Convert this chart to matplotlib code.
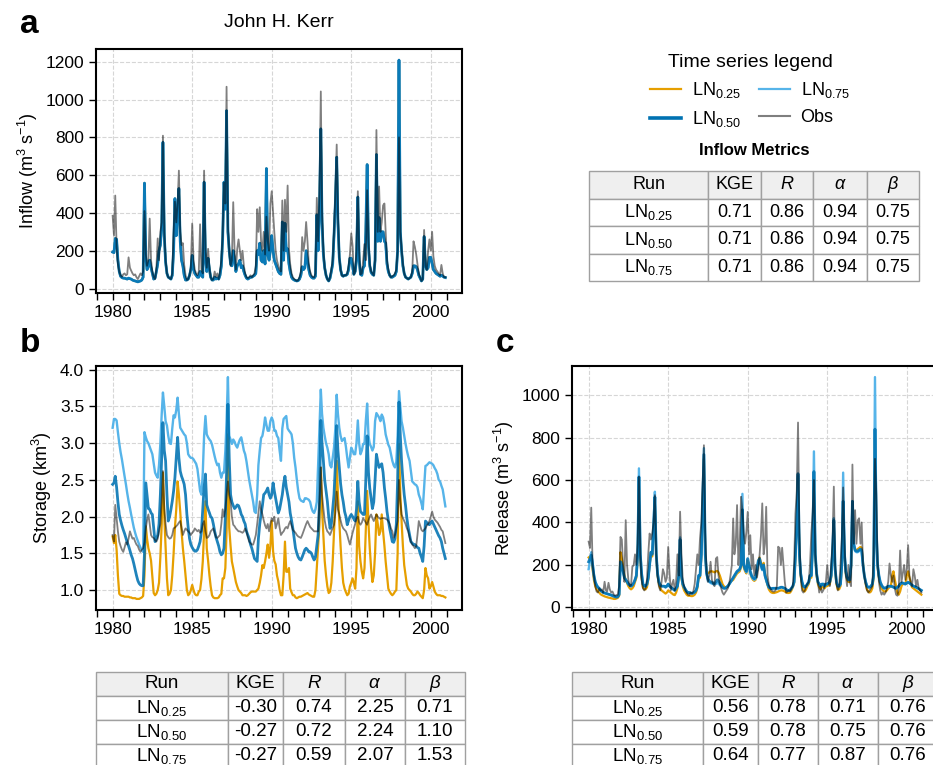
import numpy as np
import pandas as pd
import matplotlib
matplotlib.use('Agg')
import matplotlib.pyplot as plt
import matplotlib.dates as mdates
from matplotlib.lines import Line2D

plt.rcParams['font.family'] = ['Liberation Sans', 'DejaVu Sans']
plt.rcParams['mathtext.fontset'] = 'custom'
plt.rcParams['mathtext.rm'] = 'Liberation Sans'
plt.rcParams['mathtext.it'] = 'Liberation Sans:italic'
plt.rcParams['mathtext.bf'] = 'Liberation Sans:bold'

# monthly values, Jan 1980 - Dec 2000 (one line per year)
dates = pd.date_range('1980-01-01', periods=252, freq='MS')

inflow_obs = [
    385, 280, 492, 220, 130, 90, 70, 62, 75, 80, 70, 75,
    165, 110, 95, 80, 70, 75, 60, 50, 65, 80, 70, 90,
    410, 180, 120, 150, 370, 150, 90, 60, 50, 100, 265, 150,
    300, 350, 809, 300, 150, 80, 60, 55, 50, 80, 300, 460,
    350, 450, 624, 300, 230, 240, 125, 70, 45, 50, 70, 110,
    344, 150, 100, 80, 70, 90, 340, 100, 80, 624, 210, 110,
    210, 110, 60, 45, 50, 90, 60, 80, 50, 90, 150, 280,
    560, 450, 1068, 330, 200, 120, 150, 457, 200, 100, 210, 260,
    200, 150, 200, 120, 80, 60, 55, 60, 70, 60, 70, 80,
    120, 420, 300, 430, 250, 200, 300, 180, 380, 250, 200, 450,
    515, 400, 300, 200, 150, 120, 100, 90, 466, 200, 470, 300,
    545, 210, 130, 80, 60, 50, 45, 40, 45, 60, 90, 272,
    200, 250, 352, 250, 130, 90, 70, 60, 60, 80, 480, 250,
    500, 1043, 400, 200, 110, 70, 50, 40, 60, 100, 150, 300,
    500, 762, 400, 165, 100, 70, 65, 70, 70, 80, 120, 180,
    292, 225, 75, 90, 200, 515, 200, 75, 80, 150, 235, 150,
    520, 250, 130, 90, 80, 70, 150, 839, 300, 540, 300, 350,
    440, 450, 300, 150, 100, 70, 60, 65, 70, 80, 100, 200,
    800, 300, 210, 130, 80, 60, 55, 50, 55, 60, 90, 250,
    220, 180, 130, 80, 60, 40, 50, 310, 120, 100, 200, 260,
    200, 300, 170, 120, 100, 90, 80, 70, 125, 80, 60, 60,
]

# the three runs give the same inflow
inflow_sim = [
    193, 190, 265, 260, 150, 90, 65, 58, 55, 55, 52, 50,
    55, 52, 50, 45, 42, 40, 38, 35, 38, 40, 45, 60,
    558, 160, 100, 120, 150, 110, 80, 50, 55, 90, 130, 200,
    230, 330, 774, 280, 140, 80, 60, 55, 50, 70, 200, 476,
    280, 400, 529, 250, 150, 120, 70, 45, 45, 50, 70, 100,
    175, 100, 80, 70, 60, 60, 90, 70, 60, 563, 150, 90,
    160, 100, 60, 45, 45, 60, 50, 55, 50, 70, 120, 260,
    563, 420, 941, 300, 200, 130, 120, 200, 150, 90, 120, 130,
    150, 110, 120, 90, 70, 55, 50, 55, 60, 60, 65, 70,
    80, 200, 180, 240, 150, 140, 200, 130, 635, 180, 150, 200,
    280, 200, 150, 130, 110, 90, 80, 75, 352, 150, 345, 200,
    210, 130, 90, 60, 50, 45, 42, 40, 42, 50, 70, 115,
    100, 110, 200, 150, 100, 70, 60, 55, 55, 65, 390, 200,
    400, 845, 350, 180, 110, 70, 50, 40, 55, 90, 130, 280,
    450, 695, 350, 165, 100, 70, 65, 70, 70, 75, 100, 160,
    160, 120, 75, 90, 150, 484, 150, 75, 70, 110, 120, 300,
    656, 220, 120, 85, 75, 70, 150, 709, 250, 375, 250, 300,
    300, 250, 240, 130, 90, 70, 60, 60, 65, 70, 90, 200,
    1209, 300, 200, 120, 80, 60, 55, 50, 55, 60, 80, 120,
    120, 115, 100, 70, 55, 40, 50, 275, 120, 100, 110, 165,
    165, 130, 100, 90, 80, 75, 70, 65, 70, 65, 60, 58,
]

storage_obs = [
    1.75, 1.66, 2.16, 1.98, 1.80, 1.66, 1.60, 1.55, 1.52, 1.58, 1.65, 1.62,
    1.70, 1.80, 1.75, 1.70, 1.71, 1.66, 1.62, 1.60, 1.55, 1.52, 1.55, 1.57,
    1.65, 1.84, 1.95, 2.03, 1.90, 1.75, 1.72, 1.71, 1.68, 1.66, 1.70, 1.80,
    1.90, 2.20, 2.62, 2.11, 1.90, 1.75, 1.72, 1.70, 1.71, 1.75, 1.84, 1.85,
    1.87, 1.89, 1.92, 1.94, 1.85, 1.75, 1.80, 1.84, 1.82, 1.80, 1.78, 1.75,
    1.78, 1.80, 1.84, 1.82, 1.80, 1.82, 1.78, 1.80, 1.90, 1.94, 1.80, 1.71,
    1.72, 1.75, 1.80, 1.82, 1.84, 1.78, 1.72, 1.71, 1.73, 1.75, 1.90, 2.10,
    2.00, 2.10, 2.30, 2.48, 2.30, 2.21, 2.00, 1.89, 1.87, 1.84, 1.82, 1.80,
    1.80, 1.79, 1.78, 1.80, 1.84, 1.80, 1.72, 1.66, 1.64, 1.62, 1.62, 1.68,
    1.75, 1.90, 2.05, 2.21, 2.10, 2.03, 1.95, 1.88, 1.84, 1.90, 1.80, 1.90,
    1.98, 1.94, 2.00, 1.84, 1.90, 1.98, 1.85, 1.75, 1.78, 1.80, 1.84, 1.86,
    1.84, 1.90, 1.94, 1.88, 1.82, 1.80, 1.78, 1.75, 1.73, 1.72, 1.71, 1.75,
    1.80, 1.85, 1.90, 1.94, 1.90, 1.86, 1.84, 1.82, 1.80, 1.80, 1.80, 1.80,
    2.20, 2.67, 2.30, 2.11, 1.95, 1.85, 1.80, 1.78, 1.75, 1.80, 1.85, 1.89,
    2.05, 2.34, 2.10, 2.03, 1.95, 1.88, 1.84, 1.82, 1.80, 1.75, 1.68, 1.62,
    1.70, 1.78, 1.84, 1.90, 1.98, 2.00, 1.92, 1.89, 1.92, 1.98, 1.95, 1.92,
    1.89, 1.95, 2.00, 2.03, 1.98, 1.94, 1.98, 2.03, 2.00, 1.98, 1.97, 1.98,
    1.98, 1.98, 1.97, 1.96, 1.94, 1.90, 1.84, 1.80, 1.71, 1.75, 1.85, 1.94,
    2.50, 2.20, 2.03, 1.98, 1.94, 1.90, 1.84, 1.80, 1.72, 1.66, 1.62, 1.60,
    1.57, 1.60, 1.75, 1.94, 1.88, 1.82, 1.80, 1.82, 1.84, 1.88, 1.90, 1.94,
    2.00, 2.07, 2.00, 1.96, 1.94, 1.92, 1.89, 1.86, 1.82, 1.80, 1.72, 1.64,
]

storage_ln25 = [
    1.73, 1.64, 1.75, 1.55, 1.20, 0.95, 0.93, 0.92, 0.92, 0.91, 0.91, 0.91,
    0.91, 0.90, 0.90, 0.89, 0.89, 0.89, 0.88, 0.88, 0.88, 0.89, 0.90, 0.92,
    1.20, 1.87, 1.70, 1.57, 1.50, 1.40, 1.19, 0.96, 0.93, 0.95, 1.00, 1.10,
    1.45, 1.90, 2.60, 2.00, 1.60, 1.16, 0.93, 0.95, 1.00, 1.20, 1.50, 1.85,
    2.10, 2.48, 2.30, 2.07, 1.80, 1.57, 1.40, 1.20, 1.00, 0.93, 0.95, 1.00,
    1.07, 1.00, 0.95, 0.93, 0.93, 0.98, 1.00, 1.15, 1.39, 1.80, 2.21, 1.57,
    1.40, 1.20, 1.05, 0.93, 0.90, 0.89, 0.89, 0.89, 0.90, 0.93, 0.95, 1.16,
    1.16, 1.30, 1.80, 3.12, 1.85, 1.60, 1.39, 1.30, 1.20, 1.11, 1.05, 1.00,
    0.98, 0.96, 0.93, 0.93, 0.93, 0.92, 0.93, 0.95, 0.97, 0.98, 0.98, 0.98,
    0.98, 1.00, 1.02, 1.10, 1.20, 1.34, 1.30, 1.39, 1.50, 1.62, 1.44, 1.60,
    1.94, 1.53, 1.40, 1.35, 1.20, 1.12, 1.00, 0.93, 0.93, 1.20, 1.66, 1.25,
    1.25, 1.30, 1.02, 0.97, 0.93, 0.93, 0.90, 0.89, 0.90, 0.91, 0.91, 0.92,
    0.93, 0.94, 0.95, 0.96, 0.94, 0.93, 0.92, 0.91, 0.91, 1.00, 1.30, 1.57,
    1.90, 2.67, 2.10, 1.75, 1.40, 1.20, 1.05, 0.96, 0.98, 1.10, 1.39, 1.80,
    2.20, 2.76, 2.30, 1.94, 1.60, 1.30, 1.10, 1.02, 0.97, 0.93, 0.95, 1.05,
    1.10, 1.16, 1.10, 1.02, 1.30, 2.21, 1.60, 1.39, 1.25, 1.16, 1.30, 1.80,
    2.35, 1.90, 1.57, 1.30, 1.11, 1.20, 1.50, 2.03, 1.90, 1.75, 1.80, 2.03,
    1.80, 1.60, 1.39, 1.20, 1.02, 0.98, 0.95, 0.93, 0.95, 0.98, 1.00, 1.50,
    2.99, 2.30, 1.94, 1.60, 1.34, 1.20, 1.07, 1.02, 1.00, 0.98, 0.95, 0.93,
    0.93, 0.95, 0.98, 0.96, 0.93, 0.91, 0.89, 1.00, 1.30, 1.20, 1.16, 1.02,
    1.05, 1.11, 1.05, 0.98, 0.95, 0.93, 0.93, 0.93, 0.92, 0.92, 0.91, 0.90,
]

storage_ln50 = [
    2.44, 2.46, 2.55, 2.40, 2.20, 2.03, 1.95, 1.88, 1.82, 1.77, 1.71, 1.65,
    1.60, 1.54, 1.48, 1.43, 1.36, 1.28, 1.20, 1.13, 1.09, 1.07, 1.06, 1.06,
    1.50, 2.46, 2.30, 2.11, 2.10, 2.05, 2.03, 1.85, 1.66, 1.70, 1.75, 1.90,
    2.30, 2.80, 3.28, 2.90, 2.76, 2.30, 1.94, 2.00, 2.10, 2.21, 2.35, 2.53,
    2.80, 3.08, 2.80, 2.62, 2.55, 2.50, 2.44, 2.30, 2.03, 1.85, 1.70, 1.62,
    1.58, 1.55, 1.53, 1.53, 1.55, 1.60, 1.66, 1.80, 2.10, 2.40, 2.58, 2.16,
    2.10, 2.05, 2.00, 1.98, 1.90, 1.80, 1.72, 1.66, 1.60, 1.52, 1.48, 1.50,
    1.57, 2.00, 2.60, 3.53, 2.80, 2.30, 2.20, 2.15, 2.11, 2.13, 2.16, 2.15,
    2.10, 2.03, 2.00, 1.94, 1.90, 1.80, 1.75, 1.70, 1.62, 1.57, 1.50, 1.43,
    1.41, 1.39, 1.70, 1.90, 2.03, 2.15, 2.30, 2.32, 2.35, 2.39, 2.30, 2.25,
    2.30, 2.46, 2.35, 2.25, 2.15, 2.05, 2.10, 2.20, 2.30, 2.45, 2.55, 2.40,
    2.30, 2.20, 2.05, 1.95, 1.84, 1.70, 1.57, 1.50, 1.45, 1.42, 1.41, 1.45,
    1.50, 1.55, 1.57, 1.55, 1.52, 1.52, 1.50, 1.45, 1.41, 1.45, 1.60, 1.75,
    2.20, 3.31, 3.00, 2.76, 2.50, 2.35, 2.21, 2.00, 1.84, 1.90, 2.10, 2.30,
    2.70, 3.24, 2.90, 2.67, 2.45, 2.30, 2.20, 2.07, 2.00, 1.89, 1.95, 2.00,
    2.03, 2.00, 1.97, 1.94, 2.10, 2.48, 2.20, 2.07, 2.05, 2.03, 2.03, 2.50,
    3.10, 2.60, 2.39, 2.25, 2.11, 2.20, 2.50, 2.85, 2.75, 2.67, 2.70, 2.72,
    2.60, 2.39, 2.25, 2.07, 1.95, 1.84, 1.75, 1.66, 1.65, 1.70, 1.90, 2.50,
    3.56, 3.10, 2.76, 2.50, 2.30, 2.15, 1.98, 1.85, 1.75, 1.66, 1.64, 1.62,
    1.62, 1.60, 1.58, 1.57, 1.50, 1.45, 1.39, 1.60, 1.94, 1.92, 1.90, 1.89,
    1.92, 1.94, 1.90, 1.86, 1.82, 1.78, 1.74, 1.71, 1.66, 1.57, 1.50, 1.43,
]

storage_ln75 = [
    3.21, 3.33, 3.33, 3.31, 3.15, 3.00, 2.88, 2.78, 2.66, 2.55, 2.44, 2.32,
    2.21, 2.12, 2.03, 1.94, 1.85, 1.78, 1.72, 1.67, 1.62, 1.58, 1.55, 1.52,
    3.15, 3.08, 3.03, 3.00, 2.95, 2.90, 2.85, 2.72, 2.60, 2.56, 2.53, 2.70,
    3.00, 3.40, 3.69, 3.50, 3.30, 3.24, 3.10, 3.00, 2.99, 3.20, 3.38, 3.35,
    3.45, 3.62, 3.40, 3.21, 3.18, 3.15, 3.12, 3.10, 3.00, 2.85, 2.82, 2.80,
    2.80, 2.78, 2.75, 2.72, 2.65, 2.50, 2.35, 2.30, 2.60, 3.10, 3.37, 3.12,
    3.08, 3.05, 3.03, 2.98, 2.90, 2.82, 2.75, 2.70, 2.72, 2.60, 2.53, 2.60,
    2.60, 2.90, 3.30, 3.90, 3.10, 3.05, 2.99, 3.05, 3.02, 2.97, 2.94, 3.00,
    3.05, 3.08, 3.00, 2.90, 2.85, 2.75, 2.63, 2.50, 2.40, 2.30, 2.20, 2.07,
    2.05, 2.30, 2.70, 2.90, 3.07, 3.10, 3.20, 3.35, 3.25, 3.17, 3.17, 3.30,
    3.35, 3.30, 3.17, 3.17, 3.10, 3.07, 2.90, 2.76, 3.20, 3.33, 3.35, 3.37,
    3.20, 3.17, 3.15, 3.12, 3.00, 2.80, 2.67, 2.50, 2.35, 2.25, 2.22, 2.21,
    2.20, 2.25, 2.25, 2.24, 2.23, 2.20, 2.12, 2.07, 2.05, 2.10, 2.20, 2.70,
    3.20, 3.73, 3.40, 3.21, 3.10, 3.00, 2.94, 2.85, 2.70, 2.67, 2.80, 2.94,
    3.20, 3.66, 3.40, 3.21, 3.10, 3.03, 3.05, 3.07, 2.95, 2.80, 2.67, 2.80,
    2.94, 2.90, 2.85, 2.85, 3.00, 3.31, 3.00, 2.85, 2.90, 2.99, 2.99, 3.30,
    3.54, 3.10, 2.99, 2.95, 2.90, 2.95, 3.30, 3.41, 3.38, 3.35, 3.30, 3.39,
    3.35, 3.25, 3.12, 3.05, 2.98, 2.94, 2.85, 2.76, 2.70, 2.67, 2.75, 3.10,
    3.71, 3.50, 3.30, 3.21, 3.10, 2.99, 2.90, 2.82, 2.76, 2.62, 2.48, 2.46,
    2.44, 2.43, 2.40, 2.30, 2.25, 2.18, 2.10, 2.40, 2.69, 2.70, 2.72, 2.74,
    2.73, 2.72, 2.70, 2.66, 2.63, 2.58, 2.50, 2.48, 2.42, 2.37, 2.25, 2.14,
]

release_obs = [
    310, 280, 470, 200, 150, 100, 75, 70, 90, 80, 85, 70,
    121, 80, 75, 116, 85, 70, 75, 60, 55, 58, 60, 100,
    332, 320, 199, 120, 411, 200, 130, 100, 105, 192, 199, 250,
    200, 300, 615, 250, 130, 90, 80, 90, 130, 250, 348, 320,
    350, 400, 529, 250, 150, 100, 80, 120, 180, 160, 120, 140,
    285, 160, 80, 110, 130, 80, 120, 250, 150, 451, 250, 130,
    100, 80, 70, 60, 58, 70, 65, 75, 110, 180, 250, 200,
    324, 400, 576, 764, 350, 170, 120, 150, 215, 130, 110, 100,
    230, 237, 150, 110, 90, 70, 60, 70, 80, 90, 110, 150,
    200, 419, 250, 300, 482, 200, 300, 521, 460, 350, 300, 356,
    450, 250, 340, 180, 250, 150, 200, 140, 180, 250, 340, 490,
    250, 300, 474, 150, 105, 90, 80, 75, 75, 80, 100, 286,
    280, 200, 281, 200, 120, 70, 75, 80, 75, 90, 100, 200,
    442, 550, 871, 350, 150, 80, 70, 80, 100, 110, 120, 200,
    350, 450, 600, 250, 160, 120, 70, 100, 70, 80, 100, 120,
    200, 120, 100, 200, 300, 569, 200, 110, 80, 100, 200, 320,
    565, 300, 150, 100, 200, 120, 100, 673, 300, 458, 300, 410,
    420, 300, 400, 200, 150, 110, 80, 70, 80, 90, 100, 250,
    700, 529, 220, 120, 80, 60, 70, 60, 70, 90, 120, 207,
    150, 120, 150, 90, 60, 55, 90, 268, 120, 160, 200, 130,
    180, 293, 150, 120, 100, 180, 150, 100, 130, 90, 80, 70,
]

release_ln25 = [
    235, 240, 230, 180, 130, 100, 85, 75, 70, 62, 58, 55,
    52, 50, 48, 46, 45, 43, 42, 40, 40, 42, 45, 55,
    260, 230, 190, 150, 130, 115, 100, 90, 85, 90, 100, 120,
    140, 240, 600, 230, 140, 95, 85, 85, 95, 130, 200, 250,
    240, 370, 500, 240, 150, 110, 90, 80, 75, 70, 65, 70,
    80, 75, 70, 65, 60, 58, 70, 90, 140, 310, 140, 100,
    80, 70, 60, 55, 55, 54, 53, 55, 60, 70, 90, 140,
    140, 240, 470, 700, 240, 170, 160, 165, 170, 170, 168, 165,
    170, 172, 165, 150, 130, 110, 100, 95, 95, 100, 110, 120,
    125, 130, 140, 150, 160, 165, 170, 190, 440, 190, 170, 160,
    220, 190, 160, 140, 130, 125, 130, 170, 220, 235, 210, 190,
    210, 160, 130, 105, 85, 75, 70, 68, 68, 70, 72, 75,
    78, 80, 80, 78, 75, 70, 68, 68, 70, 80, 95, 115,
    240, 390, 610, 240, 150, 100, 80, 75, 85, 100, 110, 140,
    140, 290, 620, 240, 150, 110, 95, 85, 95, 100, 90, 100,
    100, 105, 110, 140, 240, 390, 170, 110, 85, 85, 100, 190,
    480, 240, 160, 130, 120, 120, 190, 470, 290, 270, 270, 275,
    280, 285, 280, 210, 150, 110, 85, 75, 70, 75, 90, 140,
    800, 340, 190, 140, 110, 90, 80, 75, 75, 80, 90, 95,
    100, 150, 170, 130, 100, 70, 60, 75, 100, 110, 110, 110,
    150, 170, 140, 110, 95, 90, 85, 80, 75, 70, 65, 60,
]

release_ln50 = [
    215, 230, 246, 200, 150, 120, 105, 95, 90, 80, 75, 70,
    68, 66, 64, 62, 60, 58, 55, 52, 50, 48, 50, 60,
    215, 200, 170, 140, 130, 121, 110, 105, 100, 105, 115, 130,
    150, 250, 615, 250, 160, 110, 100, 100, 110, 140, 200, 260,
    250, 380, 520, 250, 160, 120, 105, 100, 100, 100, 95, 100,
    110, 100, 95, 90, 85, 80, 90, 100, 150, 320, 150, 110,
    95, 85, 75, 70, 70, 68, 66, 68, 72, 80, 100, 150,
    150, 250, 480, 720, 250, 160, 135, 125, 120, 118, 115, 112,
    120, 130, 125, 115, 105, 95, 90, 90, 95, 100, 110, 120,
    130, 140, 150, 160, 170, 175, 180, 200, 460, 200, 180, 170,
    230, 200, 170, 150, 140, 135, 140, 180, 220, 230, 200, 180,
    200, 150, 130, 110, 95, 90, 88, 90, 90, 90, 90, 90,
    92, 95, 95, 92, 90, 85, 80, 80, 82, 90, 100, 120,
    250, 400, 630, 250, 160, 120, 100, 95, 100, 110, 120, 150,
    150, 300, 640, 250, 160, 120, 110, 100, 110, 110, 100, 110,
    110, 115, 120, 150, 250, 410, 180, 120, 100, 100, 110, 200,
    500, 250, 170, 140, 130, 130, 200, 500, 300, 270, 265, 265,
    270, 275, 270, 200, 150, 120, 100, 95, 95, 100, 110, 150,
    840, 350, 200, 150, 120, 105, 95, 90, 92, 95, 100, 100,
    100, 98, 95, 92, 90, 95, 100, 110, 115, 115, 112, 110,
    115, 118, 115, 110, 105, 100, 98, 95, 92, 88, 84, 80,
]

release_ln75 = [
    180, 220, 260, 210, 155, 120, 105, 95, 88, 80, 75, 70,
    68, 66, 64, 62, 60, 58, 56, 54, 52, 50, 52, 62,
    190, 195, 170, 140, 130, 120, 110, 105, 100, 105, 115, 130,
    150, 260, 655, 260, 160, 110, 100, 100, 110, 140, 200, 260,
    260, 400, 545, 260, 160, 120, 105, 100, 100, 100, 95, 100,
    110, 100, 95, 90, 85, 80, 90, 100, 150, 330, 150, 110,
    95, 85, 75, 70, 70, 68, 66, 68, 72, 80, 100, 150,
    150, 250, 490, 750, 260, 160, 125, 120, 115, 112, 110, 108,
    110, 115, 112, 105, 100, 95, 90, 90, 95, 100, 108, 118,
    128, 138, 148, 158, 168, 172, 178, 200, 535, 210, 180, 165,
    200, 190, 160, 145, 135, 130, 135, 175, 215, 220, 195, 175,
    195, 150, 130, 110, 95, 90, 88, 90, 90, 90, 90, 90,
    92, 95, 95, 92, 90, 85, 80, 80, 82, 90, 100, 120,
    250, 400, 620, 250, 160, 120, 100, 95, 100, 110, 120, 150,
    150, 300, 735, 250, 160, 120, 110, 100, 110, 110, 100, 110,
    110, 115, 120, 150, 260, 420, 180, 120, 100, 100, 110, 200,
    635, 260, 170, 140, 130, 130, 200, 500, 300, 265, 260, 260,
    265, 270, 265, 200, 150, 120, 100, 95, 95, 100, 110, 150,
    1085, 380, 200, 150, 120, 105, 95, 90, 92, 95, 100, 100,
    100, 98, 95, 92, 90, 95, 100, 110, 115, 115, 112, 110,
    115, 118, 115, 110, 105, 100, 98, 95, 92, 88, 84, 80,
]

# metric tables: KGE, R, alpha, beta for LN0.25, LN0.50, LN0.75
runs = ['LN$_{0.25}$', 'LN$_{0.50}$', 'LN$_{0.75}$']
metric_cols = ['Run', 'KGE', '$R$', r'$\alpha$', r'$\beta$']
inflow_metrics = [[0.71, 0.86, 0.94, 0.75],
                  [0.71, 0.86, 0.94, 0.75],
                  [0.71, 0.86, 0.94, 0.75]]
storage_metrics = [[-0.30, 0.74, 2.25, 0.71],
                   [-0.27, 0.72, 2.24, 1.10],
                   [-0.27, 0.59, 2.07, 1.53]]
release_metrics = [[0.56, 0.78, 0.71, 0.76],
                   [0.59, 0.78, 0.75, 0.76],
                   [0.64, 0.77, 0.87, 0.76]]

c25 = '#E69F00'
c50 = '#0072B2'
c75 = '#56B4E9'

W, H = 933, 765
fig = plt.figure(figsize=(W / 100, H / 100), dpi=100)


def px_rect(left, top, right, bottom):
    return [left / W, 1 - bottom / H, (right - left) / W, (bottom - top) / H]


def style_axis(ax, ylabel):
    ax.xaxis.set_major_locator(mdates.YearLocator(5))
    ax.xaxis.set_minor_locator(mdates.YearLocator(1))
    ax.xaxis.set_major_formatter(mdates.DateFormatter('%Y'))
    ax.tick_params(which='both', direction='out', length=5, width=1, labelsize=12.5)
    ax.grid(True, which='major', ls='--', color='#d6d6d6', lw=0.8)
    ax.set_axisbelow(True)
    for s in ax.spines.values():
        s.set_linewidth(1.5)
    ax.set_ylabel(ylabel, fontsize=13)


def draw_panel(ax, ln25, ln50, ln75, obs):
    ax.plot(dates, ln25, color=c25, lw=1.6)
    ax.plot(dates, ln75, color=c75, lw=1.7)
    ax.plot(dates, ln50, color=c50, lw=2.0, alpha=0.88)
    ax.plot(dates, obs, color='black', alpha=0.5, lw=1.3)


def add_table(rect, rows, col_w, fontsize):
    tax = fig.add_axes(rect)
    tax.axis('off')
    text = [metric_cols] + [[r] + ['%.2f' % v for v in vals] for r, vals in zip(runs, rows)]
    tb = tax.table(cellText=text, colWidths=col_w, bbox=[0, 0, 1, 1], cellLoc='center')
    tb.auto_set_font_size(False)
    tb.set_fontsize(fontsize)
    for (r, c), cell in tb.get_celld().items():
        cell.set_edgecolor('#a0a0a0')
        cell.set_linewidth(1.0)
        if r == 0:
            cell.set_facecolor('#efefef')
    return tb


# a: inflow
ax_a = fig.add_axes(px_rect(96, 49, 462, 293))
draw_panel(ax_a, inflow_sim, inflow_sim, inflow_sim, inflow_obs)
style_axis(ax_a, 'Inflow (m$^3$ s$^{-1}$)')
ax_a.set_yticks([0, 200, 400, 600, 800, 1000, 1200])

# b: storage
ax_b = fig.add_axes(px_rect(96, 366, 462, 610))
draw_panel(ax_b, storage_ln25, storage_ln50, storage_ln75, storage_obs)
style_axis(ax_b, 'Storage (km$^3$)')
ax_b.set_yticks([1.0, 1.5, 2.0, 2.5, 3.0, 3.5, 4.0])
ax_b.yaxis.set_major_formatter(plt.FormatStrFormatter('%.1f'))

# c: release
ax_c = fig.add_axes(px_rect(572, 366, 938, 610))
draw_panel(ax_c, release_ln25, release_ln50, release_ln75, release_obs)
style_axis(ax_c, 'Release (m$^3$ s$^{-1}$)')
ax_c.set_yticks([0, 200, 400, 600, 800, 1000])

fig.text(279 / W, 1 - 27 / H, 'John H. Kerr', fontsize=14, ha='center', va='baseline')
for lab, x, y in [('a', 20, 33), ('b', 20, 352), ('c', 496, 352)]:
    fig.text(x / W, 1 - y / H, lab, fontsize=24, fontweight='bold', va='baseline')

handles = [Line2D([], [], color=c25, lw=1.6), Line2D([], [], color=c50, lw=2.6),
           Line2D([], [], color=c75, lw=1.6), Line2D([], [], color='black', alpha=0.5, lw=1.5)]
labels = ['LN$_{0.25}$', 'LN$_{0.50}$', 'LN$_{0.75}$', 'Obs']
fig.legend(handles, labels, ncol=2, frameon=False, title='Time series legend',
           title_fontsize=14, fontsize=13, loc='upper center',
           bbox_to_anchor=(750 / W, 1 - 45 / H), handlelength=1.7, handletextpad=0.6,
           columnspacing=1.0, labelspacing=0.5, borderpad=0)

fig.text(754 / W, 1 - 155 / H, 'Inflow Metrics', fontsize=12, fontweight='bold',
         ha='center', va='baseline')

add_table(px_rect(589, 171, 919, 281), inflow_metrics, [119, 53, 52, 54, 52], 13)
add_table(px_rect(96, 672, 465, 768), storage_metrics, [132, 55, 62, 60, 60], 13.5)
add_table(px_rect(572, 672, 938, 768), release_metrics, [131, 55, 60, 60, 60], 13.5)

fig.savefig('out.png', dpi=100)
